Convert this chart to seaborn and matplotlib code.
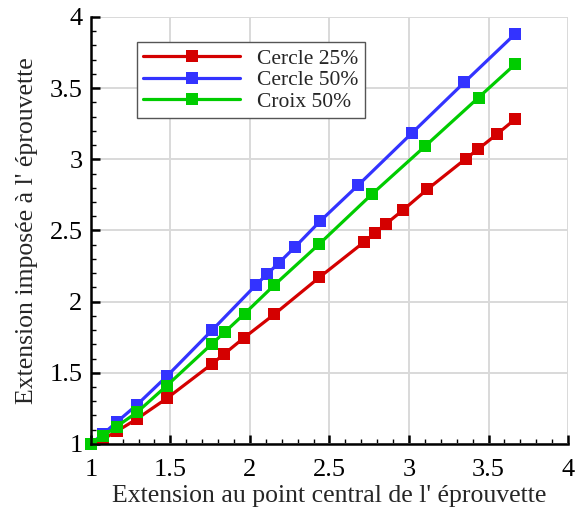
import matplotlib
matplotlib.use("Agg")
import matplotlib.pyplot as plt
from matplotlib.ticker import MultipleLocator
import seaborn as sns
import pandas as pd

# Data
cercle25_x = [1.000, 1.079, 1.162, 1.287, 1.481, 1.759, 1.838, 1.964, 2.153, 2.436,
              2.719, 2.786, 2.855, 2.962, 3.116, 3.358, 3.436, 3.552, 3.667]
cercle25_y = [1.000, 1.035, 1.088, 1.174, 1.323, 1.560, 1.632, 1.747, 1.911, 2.170,
              2.420, 2.483, 2.546, 2.643, 2.790, 3.005, 3.073, 3.176, 3.282]

cercle50_x = [1.000, 1.077, 1.164, 1.289, 1.478, 1.761, 2.038, 2.109, 2.182, 2.286,
              2.440, 2.682, 3.017, 3.347, 3.667]
cercle50_y = [1.000, 1.070, 1.155, 1.274, 1.476, 1.798, 2.117, 2.195, 2.272, 2.387,
              2.564, 2.820, 3.183, 3.540, 3.881]

croix50_x = [1.000, 1.077, 1.162, 1.291, 1.476, 1.759, 1.841, 1.967, 2.153, 2.436,
             2.767, 3.101, 3.437, 3.667]
croix50_y = [1.000, 1.056, 1.122, 1.223, 1.408, 1.701, 1.785, 1.916, 2.116, 2.405,
             2.755, 3.092, 3.434, 3.668]

series_names = ["Cercle 25%", "Cercle 50%", "Croix 50%"]
series_colors = ["#d40000", "#3333ff", "#00cc00"]
x_label = "Extension au point central de l' éprouvette"
y_label = "Extension imposée à l' éprouvette"

frames = []
for name, xs, ys in zip(series_names,
                        [cercle25_x, cercle50_x, croix50_x],
                        [cercle25_y, cercle50_y, croix50_y]):
    frames.append(pd.DataFrame({"x": xs, "y": ys, "serie": name}))
df = pd.concat(frames, ignore_index=True)

sns.set_style("white")
plt.rcParams["font.family"] = ["Liberation Serif", "DejaVu Serif"]

fig = plt.figure(figsize=(5.75, 5.15), dpi=100)
ax = fig.add_axes([0.158, 0.138, 0.830, 0.829])

for name, color in zip(series_names, series_colors):
    sub = df[df["serie"] == name]
    sns.lineplot(data=sub, x="x", y="y", ax=ax, color=color, label=name,
                 marker="s", markersize=8.8, markeredgewidth=0, linewidth=2.3,
                 sort=False, estimator=None, clip_on=False)

ax.set_xlim(1, 4)
ax.set_ylim(1, 4)
ax.xaxis.set_major_locator(MultipleLocator(0.5))
ax.yaxis.set_major_locator(MultipleLocator(0.5))
ax.xaxis.set_minor_locator(MultipleLocator(0.1))
ax.yaxis.set_minor_locator(MultipleLocator(0.1))
ax.xaxis.set_major_formatter(matplotlib.ticker.FuncFormatter(lambda v, p: f"{v:g}"))
ax.yaxis.set_major_formatter(matplotlib.ticker.FuncFormatter(lambda v, p: f"{v:g}"))

ax.grid(True, which="major", color="#d9d9d9", linewidth=1.4)
ax.set_axisbelow(True)
for s in ["top", "right"]:
    ax.spines[s].set_visible(False)
for s in ["left", "bottom"]:
    ax.spines[s].set_color("black")
    ax.spines[s].set_linewidth(1.8)
    ax.spines[s].set_zorder(5)

ax.tick_params(which="major", direction="in", length=6.5, width=1.8,
               labelsize=19, left=True, bottom=True, colors="black")
ax.tick_params(which="minor", direction="in", length=3.5, width=1.0,
               left=True, bottom=True, colors="black")
ax.tick_params(axis="x", which="major", pad=11)
ax.tick_params(axis="y", which="major", pad=6)

ax.set_xlabel(x_label, fontsize=18.5, labelpad=2.5)
ax.set_ylabel(y_label, fontsize=18.5, labelpad=8)

leg = ax.legend(loc="upper left", bbox_to_anchor=(0.096, 0.941), borderaxespad=0,
                fontsize=15.5, handlelength=4.5, handletextpad=0.8,
                labelspacing=0.07, borderpad=0.3, fancybox=False, framealpha=1,
                edgecolor="#555555")
leg.get_frame().set_linewidth(1.0)

fig.savefig("out.png", dpi=100)
